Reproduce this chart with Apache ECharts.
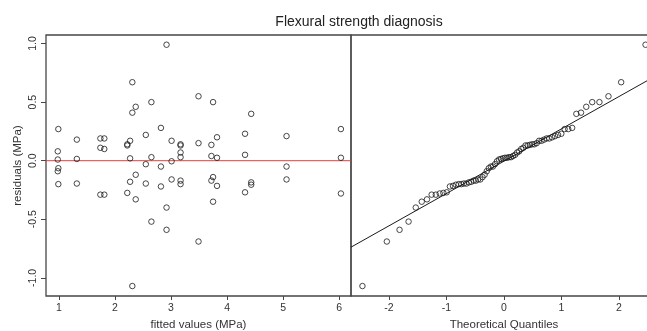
<!DOCTYPE html>
<html>
<head>
<meta charset="utf-8">
<title>Flexural strength diagnosis</title>
<script src="https://cdn.jsdelivr.net/npm/echarts@6/dist/echarts.min.js"></script>
<style>
  html, body { margin: 0; padding: 0; background: #fff; }
  #chart { width: 647px; height: 331px; }
</style>
</head>
<body>
<div id="chart"></div>
<script>
// Fitted values (MPa) and their residuals (MPa), one entry per specimen
const fittedValues = [
  0.98, 0.98, 0.98,
  0.99, 0.99, 0.99,
  1.32, 1.32, 1.32,
  1.74, 1.74, 1.74,
  1.81, 1.81, 1.81,
  2.22, 2.22, 2.22,
  2.27, 2.27, 2.27,
  2.31, 2.31, 2.31,
  2.37, 2.37, 2.37,
  2.55, 2.55, 2.55,
  2.65, 2.65, 2.65,
  2.82, 2.82, 2.82,
  2.92, 2.92, 2.92,
  3.01, 3.01, 3.01,
  3.17, 3.17, 3.17,
  3.17, 3.17, 3.17,
  3.49, 3.49, 3.49,
  3.72, 3.72, 3.72,
  3.75, 3.75, 3.75,
  3.82, 3.82, 3.82,
  4.32, 4.32, 4.32,
  4.43, 4.43, 4.43,
  5.06, 5.06, 5.06,
  6.03, 6.03, 6.03
];
const residuals = [
  0.08, 0.01, -0.09,
  0.27, -0.064, -0.20,
  0.18, 0.015, -0.195,
  0.19, 0.11, -0.29,
  0.19, 0.10, -0.29,
  0.14, 0.13, -0.275,
  0.17, 0.02, -0.18,
  0.67, 0.41, -1.07,
  0.46, -0.12, -0.33,
  0.22, -0.03, -0.195,
  0.50, 0.03, -0.52,
  0.28, -0.05, -0.22,
  0.99, -0.40, -0.59,
  0.17, -0.005, -0.16,
  0.14, 0.03, -0.17,
  0.13, 0.07, -0.20,
  0.55, 0.15, -0.69,
  0.135, 0.04, -0.17,
  0.50, -0.14, -0.35,
  0.20, 0.025, -0.215,
  0.23, 0.05, -0.27,
  0.40, -0.185, -0.205,
  0.21, -0.05, -0.16,
  0.27, 0.025, -0.28
];

// Normal Q-Q plot: theoretical quantiles and ordered sample residuals
const theoreticalQuantiles = [
  -2.461, -2.037, -1.816, -1.659, -1.534, -1.430, -1.339, -1.258, -1.185,
  -1.117, -1.054, -0.996, -0.940, -0.887, -0.837, -0.788, -0.742, -0.697,
  -0.653, -0.610, -0.569, -0.528, -0.489, -0.450, -0.412, -0.374, -0.337,
  -0.300, -0.264, -0.228, -0.193, -0.157, -0.122, -0.087, -0.052, -0.017,
  0.017, 0.052, 0.087, 0.122, 0.157, 0.193, 0.228, 0.264, 0.300,
  0.337, 0.374, 0.412, 0.450, 0.489, 0.528, 0.569, 0.610, 0.653,
  0.697, 0.742, 0.788, 0.837, 0.887, 0.940, 0.996, 1.054, 1.117,
  1.185, 1.258, 1.339, 1.430, 1.534, 1.659, 1.816, 2.037, 2.461
];
const sampleQuantiles = [
  -1.07, -0.69, -0.59, -0.52, -0.40, -0.35, -0.33, -0.29, -0.29,
  -0.28, -0.275, -0.27, -0.22, -0.215, -0.205, -0.20, -0.20, -0.195,
  -0.195, -0.185, -0.18, -0.17, -0.17, -0.16, -0.16, -0.14, -0.12,
  -0.09, -0.064, -0.05, -0.05, -0.03, -0.005, 0.01, 0.015, 0.02,
  0.025, 0.025, 0.03, 0.03, 0.04, 0.05, 0.07, 0.08, 0.10,
  0.11, 0.13, 0.13, 0.135, 0.14, 0.14, 0.15, 0.17, 0.17,
  0.18, 0.19, 0.19, 0.20, 0.21, 0.22, 0.23, 0.27, 0.27,
  0.28, 0.40, 0.41, 0.46, 0.50, 0.50, 0.55, 0.67, 0.99
];

// Reference line through the quartiles
const qqIntercept = -0.004;
const qqSlope = 0.276;

// Axis ranges and tick labels
const residualRange = [-1.155, 1.073];
const fittedRange = [0.77, 6.21];
const quantileRange = [-2.66, 2.66];
const residualTicks = [-1.0, -0.5, 0.0, 0.5, 1.0];
const fittedTicks = [1, 2, 3, 4, 5, 6];
const quantileTicks = [-2, -1, 0, 1, 2];

const FONT = '"Liberation Sans Narrow", "Liberation Sans", Arial, sans-serif';
const FRAME = '#474747';

const chart = echarts.init(document.getElementById('chart'), null, { renderer: 'canvas' });

const residualPoints = fittedValues.map((f, i) => [f, residuals[i]]);
const zeroLine = fittedRange.map(f => [f, 0]);
const qqPoints = theoreticalQuantiles.map((q, i) => [q, sampleQuantiles[i]]);
const qqLine = quantileRange.map(q => [q, qqIntercept + qqSlope * q]);

const circleStyle = {
  color: 'rgba(0,0,0,0)',
  borderColor: '#1a1a1a',
  borderWidth: 1
};

const tickStyle = { color: FRAME, width: 1 };
const labelStyle = { fontFamily: FONT, fontSize: 10.5, color: '#333' };

chart.setOption({
  animation: false,
  backgroundColor: '#fff',
  title: {
    text: 'Flexural strength diagnosis',
    left: 354,
    top: 10,
    textAlign: 'center',
    textStyle: { fontFamily: FONT, fontSize: 14, fontWeight: 'normal', color: '#222' }
  },
  grid: [
    { left: 46, top: 35, width: 305, height: 261, show: true,
      containLabel: false, outerBoundsMode: 'none',
      borderColor: FRAME, borderWidth: 1.3, backgroundColor: 'transparent' },
    { left: 351, top: 35, width: 306, height: 261, show: true,
      containLabel: false, outerBoundsMode: 'none',
      borderColor: FRAME, borderWidth: 1.3, backgroundColor: 'transparent' }
  ],
  xAxis: [
    {
      gridIndex: 0, type: 'value', position: 'bottom', min: fittedRange[0], max: fittedRange[1],
      name: 'fitted values (MPa)', nameLocation: 'middle', nameGap: 21,
      nameTextStyle: { fontFamily: FONT, fontSize: 11.5, color: '#333' },
      axisLine: { show: false, onZero: false },
      axisTick: { show: true, length: 4, lineStyle: tickStyle, customValues: fittedTicks },
      axisLabel: Object.assign({ margin: 7, customValues: fittedTicks }, labelStyle),
      splitLine: { show: false }
    },
    {
      gridIndex: 1, type: 'value', position: 'bottom', min: quantileRange[0], max: quantileRange[1],
      name: 'Theoretical Quantiles', nameLocation: 'middle', nameGap: 21,
      nameTextStyle: { fontFamily: FONT, fontSize: 11.5, color: '#333' },
      axisLine: { show: false, onZero: false },
      axisTick: { show: true, length: 4, lineStyle: tickStyle, customValues: quantileTicks },
      axisLabel: Object.assign({ margin: 7, customValues: quantileTicks }, labelStyle),
      splitLine: { show: false }
    }
  ],
  yAxis: [
    {
      gridIndex: 0, type: 'value', position: 'left', min: residualRange[0], max: residualRange[1],
      name: 'residuals (MPa)', nameLocation: 'middle', nameGap: 22,
      nameTextStyle: { fontFamily: FONT, fontSize: 11.5, color: '#333' },
      axisLine: { show: false, onZero: false },
      axisTick: { show: true, length: 5, lineStyle: tickStyle, customValues: residualTicks },
      axisLabel: Object.assign({
        margin: 7, rotate: 90, customValues: residualTicks,
        formatter: v => v.toFixed(1)
      }, labelStyle),
      splitLine: { show: false }
    },
    {
      gridIndex: 1, type: 'value', position: 'left', min: residualRange[0], max: residualRange[1],
      axisLine: { show: false, onZero: false },
      axisTick: { show: false },
      axisLabel: { show: false },
      splitLine: { show: false }
    }
  ],
  series: [
    {
      name: 'zero residual',
      type: 'line',
      xAxisIndex: 0, yAxisIndex: 0,
      symbol: 'none', silent: true,
      lineStyle: { color: '#e2413e', width: 1 },
      data: zeroLine,
      z: 2
    },
    {
      name: 'residuals',
      type: 'scatter',
      xAxisIndex: 0, yAxisIndex: 0,
      symbol: 'circle', symbolSize: 5.5,
      itemStyle: circleStyle,
      data: residualPoints,
      z: 3
    },
    {
      name: 'Q-Q line',
      type: 'line',
      xAxisIndex: 1, yAxisIndex: 1,
      symbol: 'none', silent: true,
      lineStyle: { color: '#1a1a1a', width: 1 },
      data: qqLine,
      z: 2
    },
    {
      name: 'sample quantiles',
      type: 'scatter',
      xAxisIndex: 1, yAxisIndex: 1,
      symbol: 'circle', symbolSize: 5.5,
      itemStyle: circleStyle,
      data: qqPoints,
      z: 3
    }
  ]
});
</script>
</body>
</html>
